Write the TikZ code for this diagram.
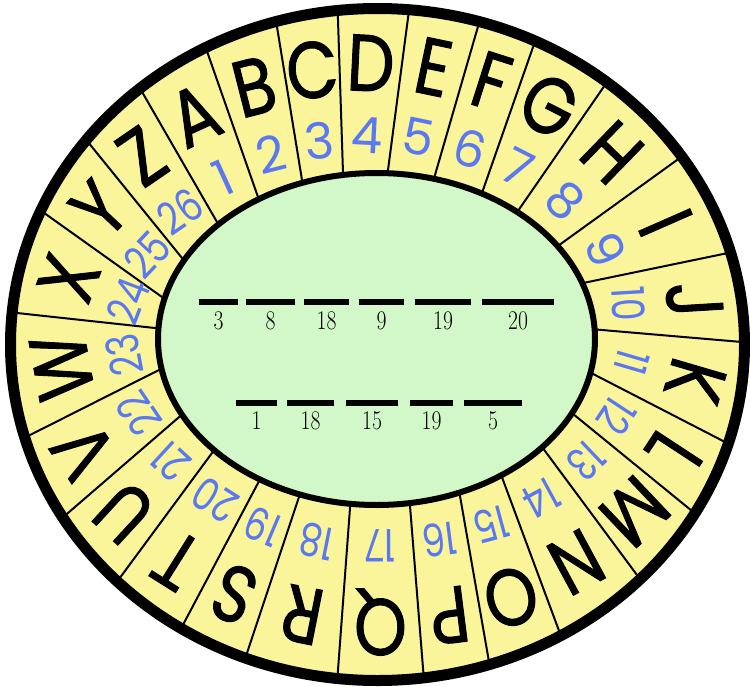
\documentclass[tikz,border=0pt]{standalone}
\usepackage{fontspec}
\usepackage{graphicx}
\usetikzlibrary{calc}
\newfontfamily\lettfont[FakeBold=1.3]{Poppins}
\newfontfamily\numfont{Poppins}
\definecolor{ringyellow}{RGB}{250,245,154}
\definecolor{centergreen}{RGB}{210,247,200}
\definecolor{numblue}{RGB}{90,120,240}
\begin{document}
\begin{tikzpicture}[x=1pt,y=-1pt,
  letter/.style={font=\lettfont\fontsize{80}{80}\selectfont, inner sep=0pt},
  ringnum/.style={font=\numfont\fontsize{50}{50}\selectfont, text=numblue, inner sep=0pt},
  blankbar/.style={fill=black, inner sep=0pt, minimum height=6pt},
  blanknum/.style={font=\fontsize{27}{27}\selectfont, inner sep=0pt},
  divider/.style={line width=2pt}]
\useasboundingbox (0,0) rectangle (750,686);
% outer dial
\fill[ringyellow] (377.5,344.5) ellipse [x radius=367, y radius=336];
% divider end points (outer o, inner n); divider k sits before letter k
\coordinate (o0) at (145,97);   \coordinate (n0) at (217,222);
\coordinate (o1) at (209,57);   \coordinate (n1) at (258,197);
\coordinate (o2) at (278,33);   \coordinate (n2) at (302,180);
\coordinate (o3) at (338,20);   \coordinate (n3) at (343,173);
\coordinate (o4) at (408,18);   \coordinate (n4) at (388,170);
\coordinate (o5) at (477,30);   \coordinate (n5) at (435,175);
\coordinate (o6) at (532,50);   \coordinate (n6) at (483,190);
\coordinate (o7) at (605,85);   \coordinate (n7) at (520,208);
\coordinate (o8) at (677,160);  \coordinate (n8) at (562,243);
\coordinate (o9) at (728,253);  \coordinate (n9) at (588,282);
\coordinate (o10) at (742,342); \coordinate (n10) at (602,330);
\coordinate (o11) at (727,443); \coordinate (n11) at (597,376);
\coordinate (o12) at (692,511); \coordinate (n12) at (578,418);
\coordinate (o13) at (637,575); \coordinate (n13) at (545,451);
\coordinate (o14) at (558,628); \coordinate (n14) at (503,480);
\coordinate (o15) at (488,656); \coordinate (n15) at (460,496);
\coordinate (o16) at (423,668); \coordinate (n16) at (410,506);
\coordinate (o17) at (338,670); \coordinate (n17) at (350,508);
\coordinate (o18) at (248,650); \coordinate (n18) at (298,500);
\coordinate (o19) at (185,621); \coordinate (n19) at (257,485);
\coordinate (o20) at (122,575); \coordinate (n20) at (212,453);
\coordinate (o21) at (68,513);  \coordinate (n21) at (178,418);
\coordinate (o22) at (30,435);  \coordinate (n22) at (157,371);
\coordinate (o23) at (17,313);  \coordinate (n23) at (155,328);
\coordinate (o24) at (47,215);  \coordinate (n24) at (162,297);
\coordinate (o25) at (92,147);  \coordinate (n25) at (182,258);
\begin{scope}
  \clip (377.5,344.5) ellipse [x radius=367, y radius=336];
  \foreach \k in {0,...,25}
    \draw[divider] ($(n\k)!-0.1!(o\k)$) -- ($(o\k)!-0.1!(n\k)$);
\end{scope}
% inner disc
\draw[line width=6pt, fill=centergreen] (376.5,339) ellipse [x radius=218.5, y radius=166];
% outer rim
\draw[line width=11pt] (377.5,344.5) ellipse [x radius=367, y radius=336];
% letters and numbers
\foreach \i/\L in {0/A,1/B,2/C,3/D,4/E,5/F,6/G,7/H,8/I,9/J,10/K,11/L,12/M,13/N,14/O,15/P,16/Q,17/R,18/S,19/T,20/U,21/V,22/W,23/X,24/Y,25/Z}{
  \pgfmathtruncatemacro{\j}{mod(\i+1,26)}
  \pgfmathtruncatemacro{\nn}{\i+1}
  \path let \p1=($(n\i)!0.5!(n\j)$), \p2=($(o\i)!0.5!(o\j)$),
            \n1={atan2(\y2-\y1,\x2-\x1)-90} in
    ($(\p1)!0.71!(\p2)$) node[letter, rotate=\n1] (L\i) {\scalebox{0.84}[1]{\L}}
    ($(\p1)!0.24!(\p2)$) node[ringnum, rotate=\n1] (N\i)
      {\ifnum\nn<10 \nn\else\scalebox{0.72}[0.9]{\nn}\fi};
}
% blanks, first row
\foreach \a/\b/\t [count=\c] in {199/238/3, 246/295/8, 304/349/18, 359/404/9, 415/471/19, 482/554/20}{
  \node[blankbar, minimum width={(\b-\a)*1pt}] (ba\c) at ({(\a+\b)/2},302) {};
  \node[blanknum] (ta\c) at ({(\a+\b)/2},321) {\scalebox{0.8}[1]{\t}};
}
% blanks, second row
\foreach \a/\b/\t [count=\c] in {236/277/1, 287/334/18, 346/398/15, 410/453/19, 464/522/5}{
  \node[blankbar, minimum width={(\b-\a)*1pt}] (bb\c) at ({(\a+\b)/2},403) {};
  \node[blanknum] (tb\c) at ({(\a+\b)/2},421) {\scalebox{0.8}[1]{\t}};
}
\end{tikzpicture}
\end{document}
